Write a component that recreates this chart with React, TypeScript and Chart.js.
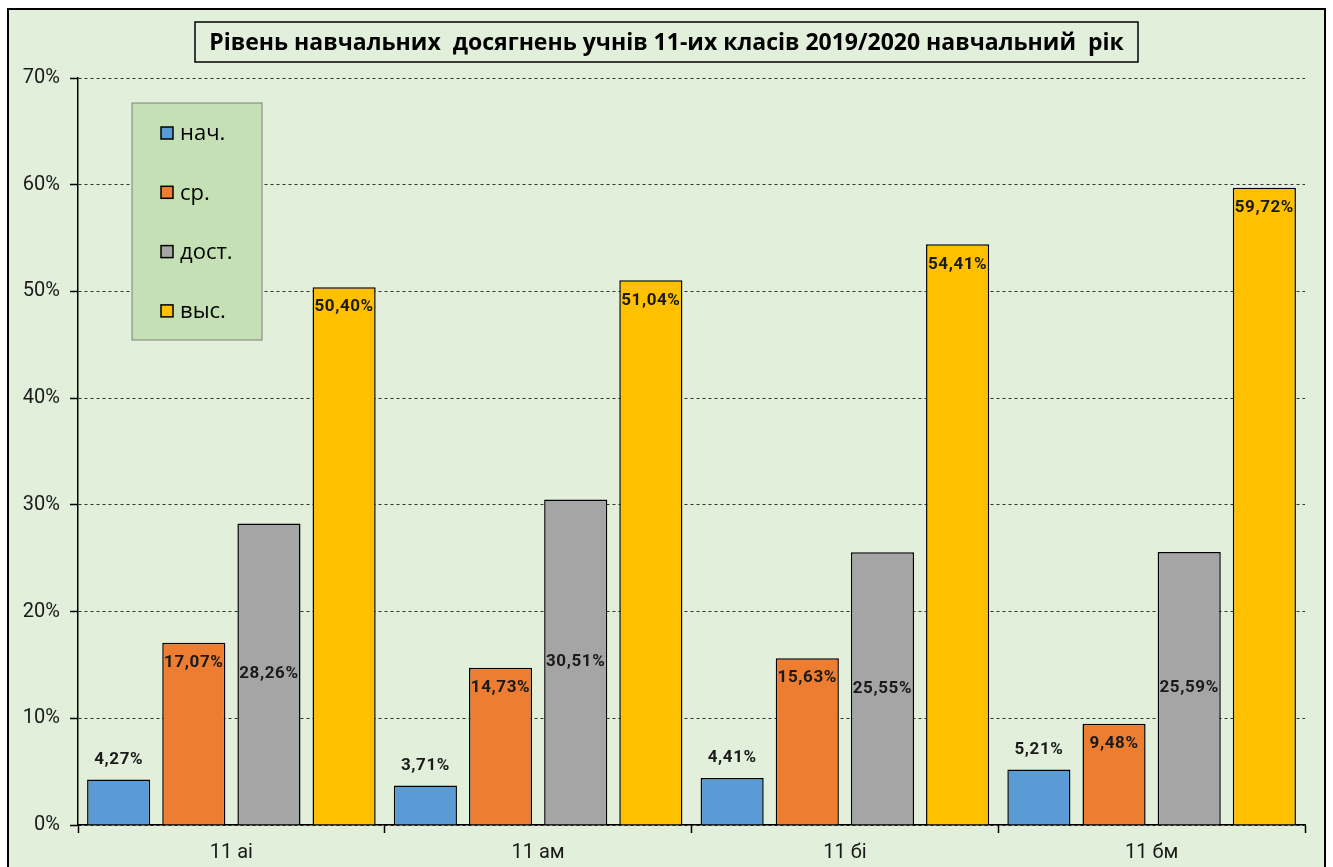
import React, { useEffect, useRef } from "react";
import { Chart, registerables } from "chart.js";

Chart.register(...registerables);

const TITLE = "Рівень навчальних  досягнень учнів 11-их класів 2019/2020 навчальний  рік";
const categories = ["11 аі", "11 ам", "11 бі", "11 бм"];
const seriesNames = ["нач.", "ср.", "дост.", "выс."];
const seriesColors = ["#5B9BD5", "#ED7D31", "#A5A5A5", "#FFC000"];
const nach = [4.27, 3.71, 4.41, 5.21];
const sr = [17.07, 14.73, 15.63, 9.48];
const dost = [28.26, 30.51, 25.55, 25.59];
const vys = [50.4, 51.04, 54.41, 59.72];
const seriesValues = [nach, sr, dost, vys];
// label placement per series: outside end, inside end, center, inside end
const labelModes = ["outside", "insideEnd", "center", "insideEnd"];
const yMax = 70;
const yStep = 10;

const BG = "#E2EFDA";
const LEGEND_BG = "#C5E0B4";
const NUM_FONT = "Roboto, 'DejaVu Sans', sans-serif";
const TEXT_FONT = "'Open Sans', Lato, sans-serif";

const fmt = (v: number) => v.toFixed(2).replace(".", ",") + "%";

const framePlugin = {
  id: "frame",
  beforeDraw(chart: any) {
    const ctx = chart.ctx;
    ctx.save();
    ctx.fillStyle = "#ffffff";
    ctx.fillRect(0, 0, chart.width, chart.height);
    ctx.fillStyle = BG;
    ctx.fillRect(8, 9, 1317, 880);
    ctx.strokeStyle = "#000";
    ctx.lineWidth = 2;
    ctx.strokeRect(8, 9, 1317, 880);
    ctx.restore();
  },
};

const titlePlugin = {
  id: "titleBox",
  afterDraw(chart: any) {
    const ctx = chart.ctx;
    ctx.save();
    ctx.fillStyle = BG;
    ctx.fillRect(195, 22, 943, 40);
    ctx.strokeStyle = "#000";
    ctx.lineWidth = 1.5;
    ctx.strokeRect(195, 22, 943, 40);
    ctx.fillStyle = "#000";
    ctx.font = `bold 23px ${TEXT_FONT}`;
    ctx.textAlign = "center";
    ctx.textBaseline = "middle";
    ctx.fillText(TITLE, 666.5, 43);
    ctx.restore();
  },
};

const legendPlugin = {
  id: "legendBox",
  afterDraw(chart: any) {
    const ctx = chart.ctx;
    ctx.save();
    ctx.fillStyle = LEGEND_BG;
    ctx.fillRect(132, 103, 130, 237);
    ctx.strokeStyle = "#7F7F7F";
    ctx.lineWidth = 1;
    ctx.strokeRect(132, 103, 130, 237);
    chart.data.datasets.forEach((ds: any, i: number) => {
      const cy = 133 + i * 59.3;
      ctx.fillStyle = ds.backgroundColor;
      ctx.fillRect(161, cy - 6, 12, 12);
      ctx.strokeStyle = "#000";
      ctx.lineWidth = 1.5;
      ctx.strokeRect(161, cy - 6, 12, 12);
      ctx.fillStyle = "#000";
      ctx.font = `22px ${TEXT_FONT}`;
      ctx.textAlign = "left";
      ctx.textBaseline = "middle";
      ctx.fillText(ds.label, 180, cy + 1);
    });
    ctx.restore();
  },
};

const labelPlugin = {
  id: "barLabels",
  afterDatasetsDraw(chart: any) {
    const ctx = chart.ctx;
    ctx.save();
    ctx.font = `bold 17px ${NUM_FONT}`;
    (ctx as any).letterSpacing = "0.6px";
    ctx.fillStyle = "#1a1a1a";
    ctx.textAlign = "center";
    ctx.textBaseline = "middle";
    chart.data.datasets.forEach((ds: any, i: number) => {
      const meta = chart.getDatasetMeta(i);
      meta.data.forEach((el: any, j: number) => {
        const v = ds.data[j];
        let y = el.y;
        const mode = labelModes[i];
        if (mode === "outside") y = el.y - 20;
        else if (mode === "insideEnd") y = el.y + 20;
        else y = (el.y + el.base) / 2;
        ctx.fillText(fmt(v), el.x, y);
      });
    });
    ctx.restore();
  },
};

export default function App() {
  const ref = useRef<HTMLCanvasElement>(null);
  useEffect(() => {
    const chart = new Chart(ref.current!, {
      type: "bar",
      data: {
        labels: categories,
        datasets: seriesValues.map((vals, i) => ({
          label: seriesNames[i],
          data: vals,
          backgroundColor: seriesColors[i],
          borderColor: "#000",
          borderWidth: 1.5,
          categoryPercentage: 0.98,
          barPercentage: 0.84,
        })),
      },
      options: {
        responsive: false,
        animation: false,
        devicePixelRatio: 1,
        layout: { padding: { left: 8, top: 78, right: 28, bottom: 0 } },
        plugins: {
          legend: { display: false },
          title: { display: false },
          tooltip: { enabled: false },
        },
        scales: {
          x: {
            afterFit: (s: any) => {
              s.height = 42;
            },
            grid: {
              display: true,
              drawOnChartArea: false,
              drawTicks: true,
              tickLength: 8,
              tickColor: "#000",
              tickWidth: 1.5,
              offset: true,
            },
            border: { display: true, color: "#000", width: 1.5 },
            ticks: {
              color: "#1a1a1a",
              font: { family: NUM_FONT, size: 20 },
              padding: 8,
            },
          },
          y: {
            min: 0,
            max: yMax,
            afterFit: (s: any) => {
              s.width = 70;
            },
            grid: {
              color: "#333333",
              lineWidth: 1,
              tickColor: "#000",
              tickWidth: 1.5,
              tickLength: 8,
            },
            border: { display: true, color: "#000", width: 1.5, dash: [3, 3] },
            ticks: {
              stepSize: yStep,
              color: "#1a1a1a",
              font: { family: NUM_FONT, size: 20 },
              padding: 10,
              callback: (v: any) => v + "%",
            },
          },
        },
      },
      plugins: [framePlugin, legendPlugin, labelPlugin, titlePlugin],
    });
    return () => chart.destroy();
  }, []);
  return (
    <div style={{ position: "fixed", left: 0, top: 0, width: 1333, height: 867 }}>
      <canvas ref={ref} width={1333} height={867} />
    </div>
  );
}
